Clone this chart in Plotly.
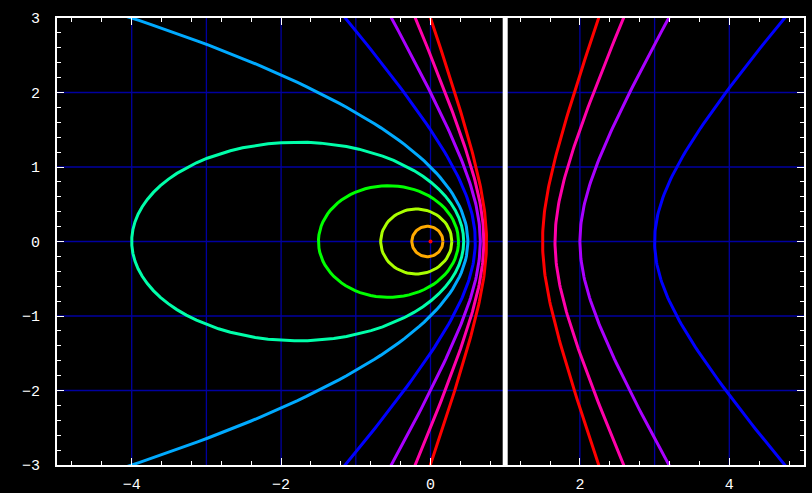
import numpy as np
import plotly.graph_objects as go

# Eccentricities of the conics (focus at origin, directrix x = 1)
eccentricities = [0.0, 0.2, 0.4, 0.6, 0.8, 1.0, 1.5, 2.0, 2.5, 3.0]
colors = ["#FF0000", "#FFAA00", "#AAFF00", "#00FF00", "#00FFAA",
          "#00AAFF", "#0000FF", "#AA00FF", "#FF00AA", "#FF0000"]
directrix_x = 1.0
x_ticks = [-4, -2, 0, 2, 4]
y_ticks = [-3, -2, -1, 0, 1, 2, 3]
x_grid = [-4, -3, -2, -1, 0, 1, 2, 3, 4]
y_grid = [-2, -1, 0, 1, 2]

fig = go.Figure()
LW = 3

for e, c in zip(eccentricities, colors):
    d = directrix_x
    if e == 0:
        fig.add_trace(go.Scatter(x=[0], y=[0], mode="markers",
                                 marker=dict(color=c, size=4), showlegend=False))
    elif e < 1:
        x1 = e * d / (1 + e)
        x2 = -e * d / (1 - e)
        cx = (x1 + x2) / 2
        a = (x1 - x2) / 2
        b = a * np.sqrt(1 - e * e)
        t = np.linspace(0, 2 * np.pi, 80)
        fig.add_trace(go.Scatter(x=cx + a * np.cos(t), y=b * np.sin(t), mode="lines",
                                 line=dict(color=c, width=LW), showlegend=False))
    elif e == 1:
        yy = np.linspace(-3.3, 3.3, 120)
        fig.add_trace(go.Scatter(x=(d * d - yy ** 2) / (2 * d), y=yy, mode="lines",
                                 line=dict(color=c, width=LW), showlegend=False))
    else:
        cx = e * e * d / (e * e - 1)
        a = e * d / (e * e - 1)
        b = a * np.sqrt(e * e - 1)
        tmax = np.arcsinh(3.3 / b)
        t = np.linspace(-tmax, tmax, 120)
        for sgn in (-1, 1):
            fig.add_trace(go.Scatter(x=cx + sgn * a * np.cosh(t), y=b * np.sinh(t),
                                     mode="lines", line=dict(color=c, width=LW),
                                     showlegend=False))

# directrix
fig.add_trace(go.Scatter(x=[directrix_x, directrix_x], y=[-3.03, 3], mode="lines",
                         line=dict(color="white", width=5), showlegend=False,
                         cliponaxis=False))

shapes = []
for gx in x_grid:
    shapes.append(dict(type="line", xref="x", yref="y", x0=gx, x1=gx, y0=-3, y1=3,
                       line=dict(color="#0000A0", width=1.3), layer="below"))
for gy in y_grid:
    shapes.append(dict(type="line", xref="x", yref="y", x0=-5, x1=5, y0=gy, y1=gy,
                       line=dict(color="#0000A0", width=1.3), layer="below"))
fig.update_layout(shapes=shapes)

font = dict(family="Liberation Mono", size=15, color="white")
fig.update_xaxes(range=[-5, 5], tickvals=x_ticks,
                 ticktext=[("−" + str(abs(v))) if v < 0 else str(v) for v in x_ticks],
                 ticks="inside", ticklen=7, tickcolor="white", tickwidth=1,
                 showgrid=False, zeroline=False, showline=True, linecolor="white",
                 linewidth=2, mirror="allticks", tickfont=font, automargin=False,
                 ticklabelstandoff=4,
                 minor=dict(dtick=0.4, tick0=0, ticks="inside", ticklen=4,
                            tickcolor="white", showgrid=False))
fig.update_yaxes(range=[-3, 3], tickvals=y_ticks,
                 ticktext=[("−" + str(abs(v))) if v < 0 else str(v) for v in y_ticks],
                 ticks="inside", ticklen=7, tickcolor="white", tickwidth=1,
                 showgrid=False, zeroline=False, showline=True, linecolor="white",
                 linewidth=2, mirror="allticks", tickfont=font, automargin=False,
                 ticklabelstandoff=12,
                 minor=dict(dtick=0.2, tick0=0, ticks="inside", ticklen=4,
                            tickcolor="white", showgrid=False))

fig.update_layout(width=812, height=493,
                  margin=dict(l=57, r=8, t=18, b=28),
                  paper_bgcolor="black", plot_bgcolor="black",
                  showlegend=False)

fig.write_html("out.html", config={"displayModeBar": False},
               post_script="document.body.style.margin='0';"
                           "document.body.style.background='black';"
                           "document.body.style.overflow='hidden';")
